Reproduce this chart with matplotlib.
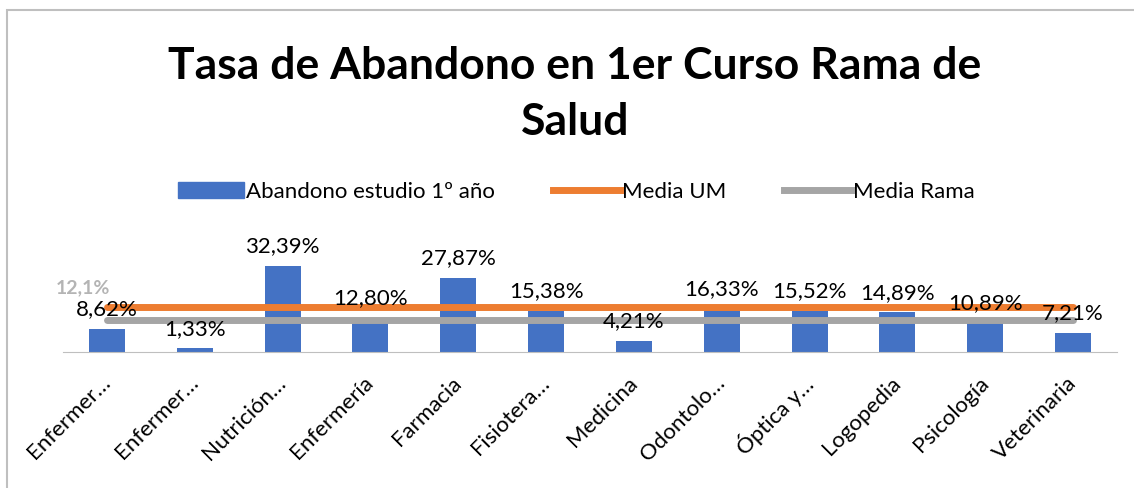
import matplotlib.pyplot as plt
import matplotlib.patches as mpatches
from matplotlib.lines import Line2D

plt.rcParams['font.family'] = ['Lato', 'DejaVu Sans']

# datos
categorias = ['Enfermer…', 'Enfermer…', 'Nutrición…', 'Enfermería', 'Farmacia', 'Fisiotera…',
              'Medicina', 'Odontolo…', 'Óptica y…', 'Logopedia', 'Psicología', 'Veterinaria']
abandono = [8.62, 1.33, 32.39, 12.80, 27.87, 15.38, 4.21, 16.33, 15.52, 14.89, 10.89, 7.21]
media_um = [16.9] * len(categorias)
media_rama = [12.1] * len(categorias)

azul = '#4472C4'
naranja = '#ED7D31'
gris = '#A5A5A5'

fig = plt.figure(figsize=(11.34, 4.88), dpi=100)
ax = fig.add_axes([0.0556, 0.2787, 0.9294, 0.218])

x = list(range(len(categorias)))
ax.bar(x, abandono, width=0.41, color=azul, zorder=2)
ax.plot(x, media_um, color=naranja, lw=5, solid_capstyle='round', zorder=3)
ax.plot(x, media_rama, color=gris, lw=5, solid_capstyle='round', zorder=3)

# etiquetas de datos
for xi, v in zip(x, abandono):
    ax.annotate(f'{v:.2f}%'.replace('.', ','), (xi, v), xytext=(0, 7), textcoords='offset points',
                ha='center', va='bottom', fontsize=16, color='black', zorder=4)

ax.annotate('12,1%', (0, media_rama[0]), xytext=(-17, 23), textcoords='offset points',
            ha='center', va='center', fontsize=14, fontweight='bold', color='#B4B4B4', zorder=4)

ax.set_xlim(-0.5, len(categorias) - 0.5)
ax.set_ylim(0, 40)
ax.set_yticks([])
for s in ['top', 'right', 'left']:
    ax.spines[s].set_visible(False)
ax.spines['bottom'].set_color('#BFBFBF')
ax.set_xticks(x)
ax.set_xticklabels(categorias, rotation=45, ha='right', va='center', rotation_mode='anchor', fontsize=16)
ax.tick_params(axis='x', length=0, pad=20)

# titulo y leyenda
fig.text(0.507, 0.865, 'Tasa de Abandono en 1er Curso Rama de', ha='center', va='center',
         fontsize=32, fontweight='bold')
fig.text(0.507, 0.75, 'Salud', ha='center', va='center', fontsize=32, fontweight='bold')

handles = [mpatches.Patch(color=azul, label='Abandono estudio 1º año'),
           Line2D([], [], color=naranja, lw=5, label='Media UM'),
           Line2D([], [], color=gris, lw=5, label='Media Rama')]
fig.legend(handles=handles, loc='center', bbox_to_anchor=(0.508, 0.607), ncol=3, frameon=False,
           fontsize=16, handlelength=3.0, handletextpad=0.1, columnspacing=2.6)

# marco
fig.patches.append(mpatches.Rectangle((7 / 1134, -0.02), 1.02, 0.02 + 478 / 488, transform=fig.transFigure,
                                      fill=False, edgecolor='#BFBFBF', lw=1.5))

fig.savefig('out.png', dpi=100)
